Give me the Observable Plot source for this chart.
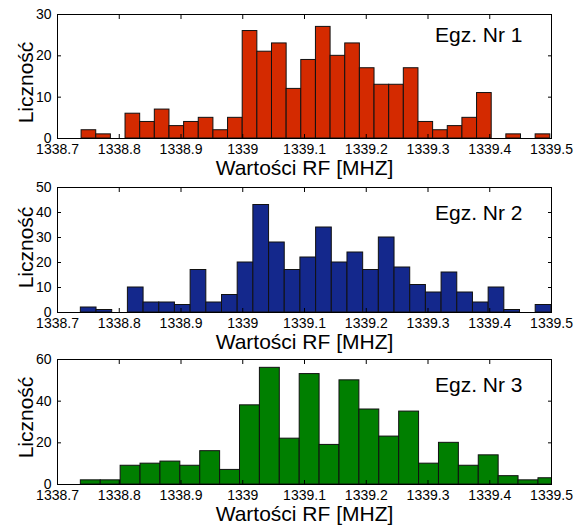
<!DOCTYPE html>
<html><head><meta charset="utf-8">
<script src="https://cdn.jsdelivr.net/npm/d3@7"></script>
<script src="https://cdn.jsdelivr.net/npm/@observablehq/plot@0.6"></script>
<style>body{margin:0;background:#fff} svg{display:block}</style>
</head><body><div id="c"></div>
<script>
const xTicks = [1338.7, 1338.8, 1338.9, 1339.0, 1339.1, 1339.2, 1339.3, 1339.4, 1339.5];
const xTickLabels = ["1338.7", "1338.8", "1338.9", "1339", "1339.1", "1339.2", "1339.3", "1339.4", "1339.5"];
const xLabel = "Wartości RF [MHZ]";
const yLabel = "Liczność";

const counts1 = [2,1,0,6,4,7,3,4,5,2,5,26,21,23,12,19,27,20,23,17,13,13,17,4,2,3,5,11,0,1,0,1];
const binStart1 = 1338.739, binWidth1 = 0.02372;
const yTicks1 = [0, 10, 20, 30];

const counts2 = [2,1,0,10,4,4,3,17,4,7,20,43,28,17,22,34,20,24,17,30,18,11,8,16,8,4,10,1,0,3];
const binStart2 = 1338.7378, binWidth2 = 0.0254;
const yTicks2 = [0, 10, 20, 30, 40, 50];

const counts3 = [2,2,9,10,11,9,16,7,38,56,22,53,19,50,36,23,35,10,20,9,14,4,2,3];
const binStart3 = 1338.7378, binWidth3 = 0.03222;
const yTicks3 = [0, 20, 40, 60];

const labels = ["Egz. Nr 1", "Egz. Nr 2", "Egz. Nr 3"];
const colors = ["#d42a00", "#14288c", "#007f00"];

function panel({counts, start, width, yTicks, color, label, height, mb, labelDy, ylDy}) {
  const bins = counts.map((c, i) => ({x1: start + i * width, x2: start + (i + 1) * width, y: c})).filter(d => d.y > 0);
  const yMax = yTicks[yTicks.length - 1];
  const blank = () => "";
  return Plot.plot({
    width: 579, height, marginTop: 14, marginBottom: mb, marginLeft: 57, marginRight: 28,
    style: {fontFamily: "'Liberation Sans', Arial, sans-serif", fontSize: "14px", color: "#000", overflow: "visible"},
    x: {domain: [1338.7, 1339.5]},
    y: {domain: [0, yMax]},
    marks: [
      Plot.rectY(bins, {x1: "x1", x2: "x2", y: "y", fill: color, stroke: "#111", strokeWidth: 1, clip: true}),
      Plot.frame({stroke: "#000"}),
      Plot.axisX({ticks: xTicks, tickSize: 0, tickPadding: 6, tickFormat: d => xTickLabels[xTicks.indexOf(d)], label: null, fontSize: 14}),
      Plot.axisX({ticks: xTicks, tickSize: -4, tickFormat: blank, label: null}),
      Plot.axisX({anchor: "top", ticks: xTicks, tickSize: -4, tickFormat: blank, label: null}),
      Plot.axisY({ticks: yTicks, tickSize: 0, tickPadding: 6, label: null, fontSize: 14}),
      Plot.axisY({ticks: yTicks, tickSize: -4, tickFormat: blank, label: null}),
      Plot.axisY({anchor: "right", ticks: yTicks, tickSize: -4, tickFormat: blank, label: null}),
      Plot.text([xLabel], {frameAnchor: "bottom", lineAnchor: "top", dy: 22, fontSize: 21, fill: "#000"}),
      Plot.text([yLabel], {frameAnchor: "left", textAnchor: "middle", lineAnchor: "middle", rotate: -90, dx: -31, dy: ylDy, fontSize: 21, fill: "#000"}),
      Plot.text([label], {frameAnchor: "top-right", textAnchor: "end", lineAnchor: "top", dx: -29, dy: labelDy, fontSize: 21, fill: "#000"})
    ]
  });
}

const c = document.getElementById("c");
c.append(panel({counts: counts1, start: binStart1, width: binWidth1, yTicks: yTicks1, color: colors[0], label: labels[0], height: 173, mb: 35, labelDy: 12.5, ylDy: 6}));
c.append(panel({counts: counts2, start: binStart2, width: binWidth2, yTicks: yTicks2, color: colors[1], label: labels[1], height: 172, mb: 33, labelDy: 18, ylDy: -2.5}));
c.append(panel({counts: counts3, start: binStart3, width: binWidth3, yTicks: yTicks3, color: colors[2], label: labels[2], height: 180, mb: 41, labelDy: 18, ylDy: -4.5}));
</script>
</body></html>
